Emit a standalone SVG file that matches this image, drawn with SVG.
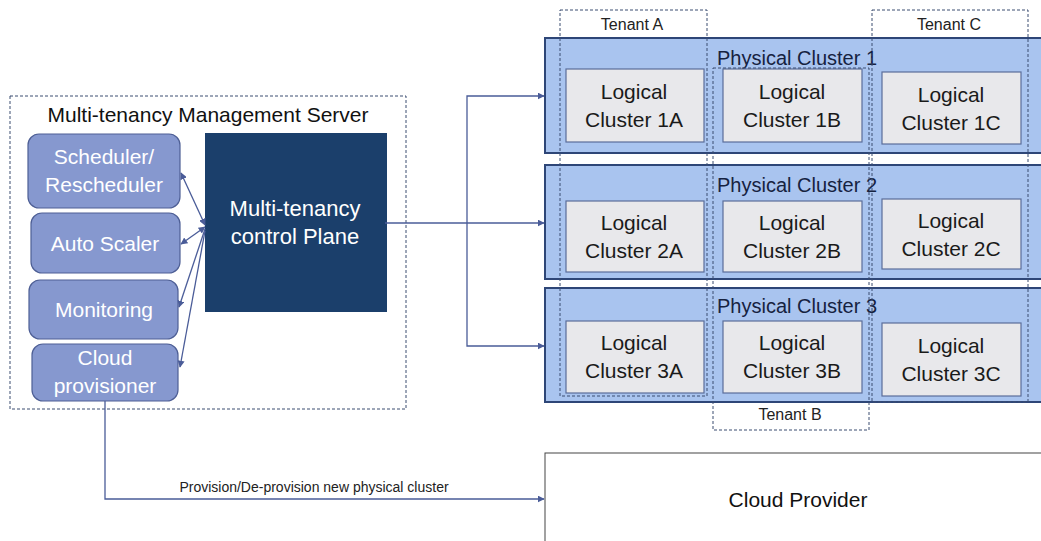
<svg xmlns="http://www.w3.org/2000/svg" width="1041" height="541" viewBox="0 0 1041 541">
<defs>
<marker id="ah" viewBox="0 0 10 10" refX="9" refY="5" markerWidth="7" markerHeight="7" markerUnits="userSpaceOnUse" orient="auto-start-reverse"><path d="M0,0 L10,5 L0,10 z" fill="#4a5c98"/></marker>
<style>
text{font-family:"Liberation Sans","DejaVu Sans",sans-serif;text-anchor:middle}
.svc{fill:#8698cf;stroke:#4e5f95;stroke-width:1.2}
.svt{fill:#ffffff;font-size:21px}
.phys{fill:#a9c4ef;stroke:#2e4677;stroke-width:2}
.pht{fill:#16223f;font-size:20px}
.log{fill:#e8e8eb;stroke:#5a6d99;stroke-width:1.2}
.lgt{fill:#1a1a1a;font-size:21px}
.dash{fill:none;stroke:#3b4c70;stroke-width:1;stroke-dasharray:3,2}
.tt{fill:#222;font-size:16px}
.edge{fill:none;stroke:#4a5c98;stroke-width:1.3}
</style>
</defs>
<rect width="1041" height="541" fill="#ffffff"/>

<g id="mgmt-server">
<rect x="10" y="96" width="396" height="313" class="dash"/>
<text x="208" y="122" style="font-size:21px;fill:#111">Multi-tenancy Management Server</text>
</g>
<g id="scheduler"><rect x="28" y="134" width="152" height="74" rx="11" class="svc"/><text x="104" y="164" class="svt">Scheduler/</text><text x="104" y="192" class="svt">Rescheduler</text></g>
<g id="autoscaler"><rect x="31" y="213" width="149" height="60" rx="11" class="svc"/><text x="105" y="251" class="svt">Auto Scaler</text></g>
<g id="monitoring"><rect x="29" y="280" width="149" height="59" rx="11" class="svc"/><text x="104" y="317" class="svt">Monitoring</text></g>
<g id="cloudprov"><rect x="32" y="344" width="146" height="57" rx="11" class="svc"/><text x="105" y="365" class="svt">Cloud</text><text x="105" y="393" class="svt">provisioner</text></g>
<g id="controlplane"><rect x="205" y="133" width="182" height="179" fill="#1b3f6b"/><text x="295" y="216" style="fill:#fff;font-size:22px">Multi-tenancy</text><text x="295" y="244" style="fill:#fff;font-size:22px">control Plane</text></g>

<g id="phys1"><rect x="545" y="38" width="500" height="115" class="phys"/><text x="797" y="65" class="pht">Physical Cluster 1</text></g>
<g id="phys2"><rect x="545" y="165" width="500" height="114" class="phys"/><text x="797" y="192" class="pht">Physical Cluster 2</text></g>
<g id="phys3"><rect x="545" y="288" width="500" height="114" class="phys"/><text x="797" y="313" class="pht">Physical Cluster 3</text></g>

<g id="lc1a"><rect x="566" y="69" width="138" height="73" class="log"/><text x="634" y="99" class="lgt">Logical</text><text x="634" y="127" class="lgt">Cluster 1A</text></g>
<g id="lc1b"><rect x="723" y="69" width="139" height="73" class="log"/><text x="792" y="99" class="lgt">Logical</text><text x="792" y="127" class="lgt">Cluster 1B</text></g>
<g id="lc1c"><rect x="882" y="72" width="139" height="72" class="log"/><text x="951" y="102" class="lgt">Logical</text><text x="951" y="130" class="lgt">Cluster 1C</text></g>
<g id="lc2a"><rect x="566" y="201" width="138" height="71" class="log"/><text x="634" y="230" class="lgt">Logical</text><text x="634" y="258" class="lgt">Cluster 2A</text></g>
<g id="lc2b"><rect x="723" y="201" width="139" height="71" class="log"/><text x="792" y="230" class="lgt">Logical</text><text x="792" y="258" class="lgt">Cluster 2B</text></g>
<g id="lc2c"><rect x="882" y="199" width="139" height="70" class="log"/><text x="951" y="228" class="lgt">Logical</text><text x="951" y="256" class="lgt">Cluster 2C</text></g>
<g id="lc3a"><rect x="566" y="321" width="138" height="72" class="log"/><text x="634" y="350" class="lgt">Logical</text><text x="634" y="378" class="lgt">Cluster 3A</text></g>
<g id="lc3b"><rect x="723" y="321" width="139" height="72" class="log"/><text x="792" y="350" class="lgt">Logical</text><text x="792" y="378" class="lgt">Cluster 3B</text></g>
<g id="lc3c"><rect x="882" y="323" width="139" height="73" class="log"/><text x="951" y="353" class="lgt">Logical</text><text x="951" y="381" class="lgt">Cluster 3C</text></g>

<g id="tenantA"><rect x="560" y="10" width="147" height="386" class="dash"/><text x="632" y="30" class="tt">Tenant A</text></g>
<g id="tenantB"><rect x="713" y="68" width="156" height="362" class="dash"/><text x="790" y="420" class="tt">Tenant B</text></g>
<g id="tenantC"><rect x="872" y="10" width="156" height="392" class="dash"/><text x="949" y="30" class="tt">Tenant C</text></g>

<g id="cloudprovider"><rect x="545" y="453" width="500" height="100" fill="#fff" stroke="#444" stroke-width="1"/><text x="798" y="507" style="font-size:21px;fill:#111">Cloud Provider</text></g>

<g id="connectors">
<path class="edge" d="M205,225 L181,173" marker-start="url(#ah)" marker-end="url(#ah)"/>
<path class="edge" d="M205,227 L181,244" marker-start="url(#ah)" marker-end="url(#ah)"/>
<path class="edge" d="M205,229 L179,307" marker-end="url(#ah)"/>
<path class="edge" d="M205,231 L180,367" marker-end="url(#ah)"/>
<path class="edge" d="M385,223 L544,223" marker-end="url(#ah)"/>
<path class="edge" d="M544,96 L467,96 L467,346 L544,346" marker-start="url(#ah)" marker-end="url(#ah)"/>
<path class="edge" d="M105,401 L105,499 L544,499" marker-end="url(#ah)"/>
<text x="314" y="492" style="font-size:14px;fill:#222">Provision/De-provision new physical cluster</text>
</g>
</svg>
